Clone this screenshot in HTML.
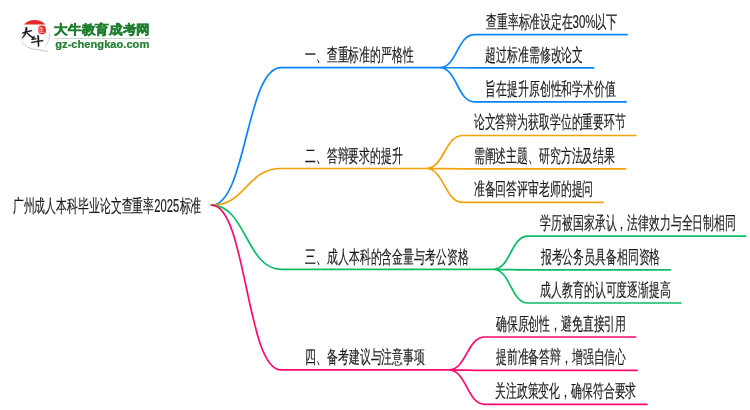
<!DOCTYPE html>
<html><head><meta charset="utf-8"><style>
html,body{margin:0;padding:0;background:#fff;width:750px;height:410px;overflow:hidden}
svg{display:block;will-change:transform;font-family:"Liberation Sans",sans-serif}
</style></head><body>
<svg width="750" height="410" viewBox="0 0 750 410">
<rect width="750" height="410" fill="#fff"/>

<g id="logo">
  <path d="M44.9,45.8 L47.6,51.6 L38.6,49.1 A14.3,14.6 0 1 1 44.9,45.8 Z" fill="#fff" stroke="#e4e4e4" stroke-width="0.6"/>
  <path d="M22.6,42.6 Q26.5,48.6 36.5,49.6 L47.4,51.5" fill="none" stroke="#b9b9b9" stroke-width="0.7"/>
  <path d="M49.6,33 Q49.8,41 45.4,45.6" fill="none" stroke="#c4c4c4" stroke-width="0.7"/>
  <path d="M23.9,24.5 A15.2,15.2 0 0 1 45.4,24.5 Z" fill="#e22a2a"/>
  <path d="M38.4,27.4 Q39,25.4 41.8,25.5 Q45.6,25.3 45.8,28.5 L45.9,31.6 Q45.6,34.4 42.2,34.2 Q38.6,34.3 38.4,31.4 Z" fill="#e42525"/>
  <path d="M38.4,27.4 Q39,25.4 41,25.6 L40.6,34.1 Q38.6,33.8 38.4,31.4 Z" fill="#f07a7a" opacity="0.7"/>
  <path d="M40.2,28.2h3.6M40.6,30.3h3M41.6,26.8v5.6M40,32.4h4.2" stroke="#fff" stroke-width="0.6" fill="none" opacity="0.85"/>
  <g fill="#151515" stroke="#151515" stroke-width="0.55" stroke-linejoin="round">
    <path d="M26.0,27.2 Q27.3,26.9 27.2,28.4 Q26.9,34.4 22.4,38.3 Q22.0,38.4 22.2,37.9 Q25.6,33.6 25.6,28.4 Q25.5,27.6 26.0,27.2 Z"/>
    <path d="M22.4,32.7 Q27,31.3 31.6,30.3 Q32.4,30.3 31.8,30.9 Q27,31.9 22.7,33.4 Q22.1,33.2 22.4,32.7 Z"/>
    <path d="M27.2,32.6 Q30.4,35.8 33.6,37.6 L33.2,38.4 Q29.8,36.6 26.9,33.4 Z"/>
    <path d="M33.9,36.2 Q33.4,37.8 31.8,39.2 L32.4,39.6 Q34.2,38.6 34.8,36.6 Z"/>
    <path d="M31.6,39.0 L36.2,38.4 L36.3,39.1 L31.8,39.7 Z"/>
    <path d="M31.2,42.2 Q37,41.0 43.0,40.3 L43.3,41.0 Q37.2,41.7 31.4,42.9 Z"/>
    <path d="M37.6,35.2 Q38.7,34.9 38.8,36 L39.0,46.0 Q38.7,47.5 38.1,46.4 L37.6,36.4 Z"/>
  </g>
</g>
<text x="54.4" y="34.1" textLength="95.4" lengthAdjust="spacingAndGlyphs" fill="#1e7d2e" stroke="#1e7d2e" stroke-width="0.5" font-size="12.6" font-weight="bold">大牛教育成考网</text>
<rect x="54.5" y="38" width="95.5" height="1" fill="#c9d7cc"/>
<text x="55.3" y="47.6" textLength="94" lengthAdjust="spacingAndGlyphs" fill="#1e7d2e" stroke="#1e7d2e" stroke-width="0.2" font-size="11.6" font-weight="bold">gz-chengkao.com</text>

<g fill="none" stroke-width="1.7" stroke-linecap="round">
<path d="M211.60,205.20C246.30,205.20 246.30,67.70 281.00,67.70 M281.00,67.70H439.60 M439.60,67.70C457.05,67.70 457.05,34.60 474.50,34.60 M474.50,34.60H627.15 M439.60,67.70C457.05,67.70 457.05,67.80 474.50,67.80 M474.50,67.80H593.55 M439.60,67.70C457.05,67.70 457.05,101.80 474.50,101.80 M474.50,101.80H626.15" stroke="#0a84ff"/>
<path d="M211.60,205.20C246.30,205.20 246.30,168.50 281.00,168.50 M281.00,168.50H425.80 M425.80,168.50C444.40,168.50 444.40,135.50 463.00,135.50 M463.00,135.50H635.75 M425.80,168.50C444.40,168.50 444.40,168.80 463.00,168.80 M463.00,168.80H625.55 M425.80,168.50C444.40,168.50 444.40,202.40 463.00,202.40 M463.00,202.40H603.05" stroke="#f3a30c"/>
<path d="M211.60,205.20C246.30,205.20 246.30,269.30 281.00,269.30 M281.00,269.30H493.20 M493.20,269.30C510.60,269.30 510.60,236.20 528.00,236.20 M528.00,236.20H745.65 M493.20,269.30C510.60,269.30 510.60,269.80 528.00,269.80 M528.00,269.80H670.55 M493.20,269.30C510.60,269.30 510.60,303.00 528.00,303.00 M528.00,303.00H680.85" stroke="#0bbd66"/>
<path d="M211.60,205.20C246.30,205.20 246.30,369.90 281.00,369.90 M281.00,369.90H448.60 M448.60,369.90C466.80,369.90 466.80,337.00 485.00,337.00 M485.00,337.00H635.65 M448.60,369.90C466.80,369.90 466.80,370.40 485.00,370.40 M485.00,370.40H637.05 M448.60,369.90C466.80,369.90 466.80,404.40 485.00,404.40 M485.00,404.40H646.95" stroke="#fe0a6c"/>
</g>
<g fill="#1a1a1a" font-size="18" stroke="#1a1a1a" stroke-width="0.18">
<text y="211.80"><tspan x="12.7" textLength="141.5" lengthAdjust="spacingAndGlyphs">广州成人本科毕业论文查重率</tspan><tspan x="154.2" textLength="25" lengthAdjust="spacingAndGlyphs" font-size="19">2025</tspan><tspan x="179.5" textLength="21.9" lengthAdjust="spacingAndGlyphs">标准</tspan></text>
<text x="304.90" y="60.90" textLength="108.70" lengthAdjust="spacingAndGlyphs">一、查重标准的严格性</text>
<text y="27.70"><tspan x="485.9" textLength="87" lengthAdjust="spacingAndGlyphs">查重率标准设定在</tspan><tspan x="572.5" textLength="23" lengthAdjust="spacingAndGlyphs" font-size="19">30%</tspan><tspan x="594.7" textLength="22.5" lengthAdjust="spacingAndGlyphs">以下</tspan></text>
<text x="485.30" y="60.50" textLength="97.83" lengthAdjust="spacingAndGlyphs">超过标准需修改论文</text>
<text x="485.30" y="94.50" textLength="130.44" lengthAdjust="spacingAndGlyphs">旨在提升原创性和学术价值</text>
<text x="304.90" y="161.70" textLength="97.83" lengthAdjust="spacingAndGlyphs">二、答辩要求的提升</text>
<text x="473.70" y="128.20" textLength="152.18" lengthAdjust="spacingAndGlyphs">论文答辩为获取学位的重要环节</text>
<text x="473.70" y="161.50" textLength="141.31" lengthAdjust="spacingAndGlyphs">需阐述主题、研究方法及结果</text>
<text x="473.70" y="195.10" textLength="119.57" lengthAdjust="spacingAndGlyphs">准备回答评审老师的提问</text>
<text x="305.40" y="262.50" textLength="163.05" lengthAdjust="spacingAndGlyphs">三、成人本科的含金量与考公资格</text>
<text x="540.30" y="228.90" textLength="195.66" lengthAdjust="spacingAndGlyphs">学历被国家承认，法律效力与全日制相同</text>
<text x="540.70" y="262.50" textLength="119.57" lengthAdjust="spacingAndGlyphs">报考公务员具备相同资格</text>
<text x="540.30" y="295.70" textLength="130.44" lengthAdjust="spacingAndGlyphs">成人教育的认可度逐渐提高</text>
<text x="305.40" y="363.10" textLength="119.57" lengthAdjust="spacingAndGlyphs">四、备考建议与注意事项</text>
<text x="495.80" y="329.70" textLength="130.44" lengthAdjust="spacingAndGlyphs">确保原创性，避免直接引用</text>
<text x="495.80" y="363.10" textLength="130.44" lengthAdjust="spacingAndGlyphs">提前准备答辩，增强自信心</text>
<text x="495.00" y="397.10" textLength="141.31" lengthAdjust="spacingAndGlyphs">关注政策变化，确保符合要求</text>
</g>
</svg>
</body></html>
